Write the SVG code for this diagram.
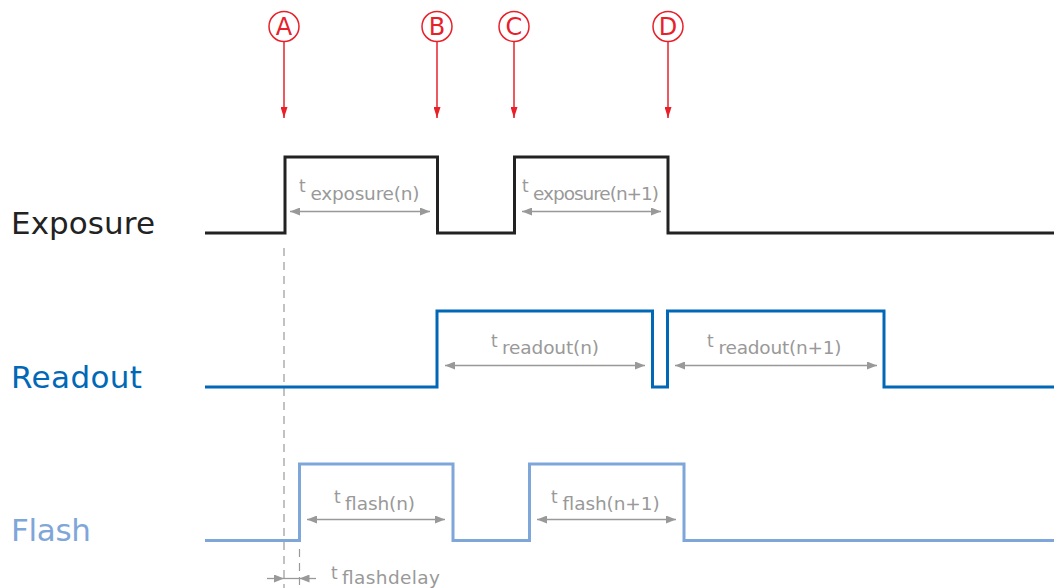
<svg xmlns="http://www.w3.org/2000/svg" width="1056" height="588" viewBox="0 0 1056 588">
<style>
.sig{fill:none;stroke-width:3;stroke-linejoin:miter}
.dim{stroke:#999;stroke-width:1.3;fill:none}
.dash{stroke:#999;stroke-width:1.2;stroke-dasharray:8 6;fill:none}
.lbl{font-family:"DejaVu Sans",Verdana,sans-serif;font-size:31px}
.t{font-family:"DejaVu Sans",Verdana,sans-serif;font-size:17px;fill:#999}
.s{font-family:"DejaVu Sans",Verdana,sans-serif;font-size:18.5px;fill:#999}
.mk{fill:none;stroke:#e8202a;stroke-width:1.5}
.mkt{font-family:"DejaVu Sans",Verdana,sans-serif;font-size:24px;fill:#e8202a;text-anchor:middle}
</style>
<defs>
<marker id="ga" viewBox="0 0 10 8" refX="10" refY="4" markerWidth="10" markerHeight="8" markerUnits="userSpaceOnUse" orient="auto-start-reverse">
<path d="M0,0 L10,4 L0,8 Z" fill="#999"/>
</marker>
<marker id="ra" viewBox="0 0 7 11" refX="3.5" refY="11" markerWidth="7" markerHeight="11" markerUnits="userSpaceOnUse" orient="0">
<path d="M0,0 L7,0 L3.5,11 Z" fill="#e8202a"/>
</marker>
</defs>

<g id="markers">
<g id="marker-A"><circle class="mk" cx="284" cy="26.5" r="15"/><text class="mkt" x="284" y="35">A</text></g>
<g id="marker-B"><circle class="mk" cx="437" cy="26.5" r="15"/><text class="mkt" x="437" y="35">B</text></g>
<g id="marker-C"><circle class="mk" cx="514" cy="26.5" r="15"/><text class="mkt" x="514" y="35">C</text></g>
<g id="marker-D"><circle class="mk" cx="668" cy="26.5" r="15"/><text class="mkt" x="668" y="35">D</text></g>
</g>

<g id="connectors">
<line x1="284" y1="41.5" x2="284" y2="118" stroke="#e8202a" stroke-width="1.5" marker-end="url(#ra)"/>
<line x1="437" y1="41.5" x2="437" y2="118" stroke="#e8202a" stroke-width="1.5" marker-end="url(#ra)"/>
<line x1="514" y1="41.5" x2="514" y2="118" stroke="#e8202a" stroke-width="1.5" marker-end="url(#ra)"/>
<line x1="668" y1="41.5" x2="668" y2="118" stroke="#e8202a" stroke-width="1.5" marker-end="url(#ra)"/>
<line class="dash" x1="284" y1="248" x2="284" y2="588"/>
<line class="dash" x1="299.5" y1="549" x2="299.5" y2="588"/>
<line class="dim" x1="290" y1="211.5" x2="430" y2="211.5" marker-start="url(#ga)" marker-end="url(#ga)"/>
<line class="dim" x1="522" y1="211.5" x2="661" y2="211.5" marker-start="url(#ga)" marker-end="url(#ga)"/>
<line class="dim" x1="445" y1="365.5" x2="645" y2="365.5" marker-start="url(#ga)" marker-end="url(#ga)"/>
<line class="dim" x1="675" y1="365.5" x2="877" y2="365.5" marker-start="url(#ga)" marker-end="url(#ga)"/>
<line class="dim" x1="307" y1="519.5" x2="445" y2="519.5" marker-start="url(#ga)" marker-end="url(#ga)"/>
<line class="dim" x1="537" y1="519.5" x2="676" y2="519.5" marker-start="url(#ga)" marker-end="url(#ga)"/>
<line class="dim" x1="267" y1="578.5" x2="284" y2="578.5" marker-end="url(#ga)"/>
<line class="dim" x1="284" y1="578.5" x2="299.5" y2="578.5"/>
<line class="dim" x1="316" y1="578.5" x2="299.5" y2="578.5" marker-end="url(#ga)"/>
</g>

<g id="exposure">
<text class="lbl" x="11" y="233.5" fill="#222" textLength="144">Exposure</text>
<path class="sig" stroke="#222" d="M205,233 H285 V157 H437.5 V233 H514.5 V157 H668 V233 H1054"/>
<text class="t" x="299" y="192">t</text>
<text class="s" x="310.5" y="199.5" textLength="109">exposure(n)</text>
<text class="t" x="522" y="192">t</text>
<text class="s" x="533" y="199.5" textLength="126">exposure(n+1)</text>
</g>

<g id="readout">
<text class="lbl" x="11" y="387.5" fill="#0068b7" textLength="131">Readout</text>
<path class="sig" stroke="#0068b7" d="M205,387 H437 V311 H652.5 V387 H667.5 V311 H884 V387 H1054"/>
<text class="t" x="491" y="347">t</text>
<text class="s" x="502" y="354" textLength="97">readout(n)</text>
<text class="t" x="707" y="347">t</text>
<text class="s" x="718.5" y="354" textLength="123">readout(n+1)</text>
</g>

<g id="flash">
<text class="lbl" x="11" y="541" fill="#7ea6d8" textLength="80">Flash</text>
<path class="sig" stroke="#7ea6d8" d="M205,540.5 H299.5 V464 H453 V540.5 H529.5 V464 H684 V540.5 H1054"/>
<text class="t" x="334" y="503">t</text>
<text class="s" x="345" y="509.5" textLength="70">flash(n)</text>
<text class="t" x="551" y="503">t</text>
<text class="s" x="562.5" y="509.5" textLength="97">flash(n+1)</text>
<text class="t" x="331" y="579">t</text>
<text class="s" x="342" y="584" textLength="98">flashdelay</text>
</g>
</svg>
